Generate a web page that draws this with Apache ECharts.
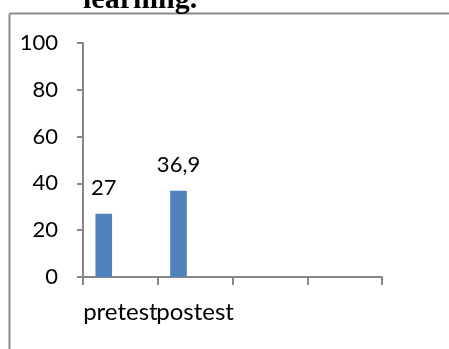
<!DOCTYPE html>
<html>
<head>
<meta charset="utf-8">
<style>
  html, body { margin: 0; padding: 0; background: #fff; overflow: hidden; }
  #chart { width: 449px; height: 349px; }
</style>
<script src="https://cdn.jsdelivr.net/npm/echarts@6/dist/echarts.min.js"></script>
</head>
<body>
<div id="chart"></div>
<script>
// Test scores by stage; the chart keeps four category slots and three series
const categories = ['pretest', 'postest', '', ''];
const series1 = [27, 36.9, null, null];
const series2 = [null, null, null, null];
const series3 = [null, null, null, null];
const yTicks = [0, 20, 40, 60, 80, 100];

const FONT = 'Lato';
const AXIS_GREY = '#868686';
const FRAME_GREY = '#8c8c8c';

const chart = echarts.init(document.getElementById('chart'), null, { renderer: 'canvas' });

const fmtComma = p => (p.value == null ? '' : String(p.value).replace('.', ','));

chart.setOption({
  animation: false,
  backgroundColor: '#ffffff',
  textStyle: { fontFamily: FONT },
  grid: { left: 83, right: 67, top: 43, bottom: 72 },
  graphic: [
    // chart frame: left and top edges
    {
      type: 'line',
      shape: { x1: 9.5, y1: 13.5, x2: 9.5, y2: 349 },
      style: { stroke: FRAME_GREY, lineWidth: 2 },
      silent: true
    },
    {
      type: 'line',
      shape: { x1: 9.5, y1: 13.5, x2: 449, y2: 13.5 },
      style: { stroke: FRAME_GREY, lineWidth: 2 },
      silent: true
    },
    {
      type: 'text',
      x: 83, y: 0,
      style: {
        text: 'learning.',
        font: 'bold 30px "Liberation Serif"',
        fill: '#000',
        verticalAlign: 'middle',
        align: 'left'
      },
      silent: true
    }
  ],
  xAxis: {
    type: 'category',
    data: categories,
    axisLine: { lineStyle: { color: AXIS_GREY, width: 2 } },
    axisTick: { show: true, length: 8, lineStyle: { color: AXIS_GREY, width: 2 } },
    axisLabel: { interval: 0, margin: 23, color: '#000', fontSize: 24, fontFamily: FONT }
  },
  yAxis: {
    type: 'value',
    min: yTicks[0],
    max: yTicks[yTicks.length - 1],
    interval: yTicks[1] - yTicks[0],
    splitLine: { show: false },
    axisLine: { show: true, lineStyle: { color: AXIS_GREY, width: 2 } },
    axisTick: { show: true, length: 6, lineStyle: { color: AXIS_GREY, width: 2 } },
    axisLabel: { margin: 25, color: '#000', fontSize: 22, fontFamily: FONT }
  },
  series: [
    {
      name: 'Series1', type: 'bar', data: series1,
      barGap: '0%', barCategoryGap: '33.3%',
      itemStyle: { color: '#4f81bd' },
      label: {
        show: true, position: 'top', distance: 15,
        color: '#000', fontSize: 22, fontFamily: FONT,
        formatter: fmtComma
      }
    },
    { name: 'Series2', type: 'bar', data: series2, itemStyle: { color: '#c0504d' } },
    { name: 'Series3', type: 'bar', data: series3, itemStyle: { color: '#9bbb59' } }
  ]
});
</script>
</body>
</html>
